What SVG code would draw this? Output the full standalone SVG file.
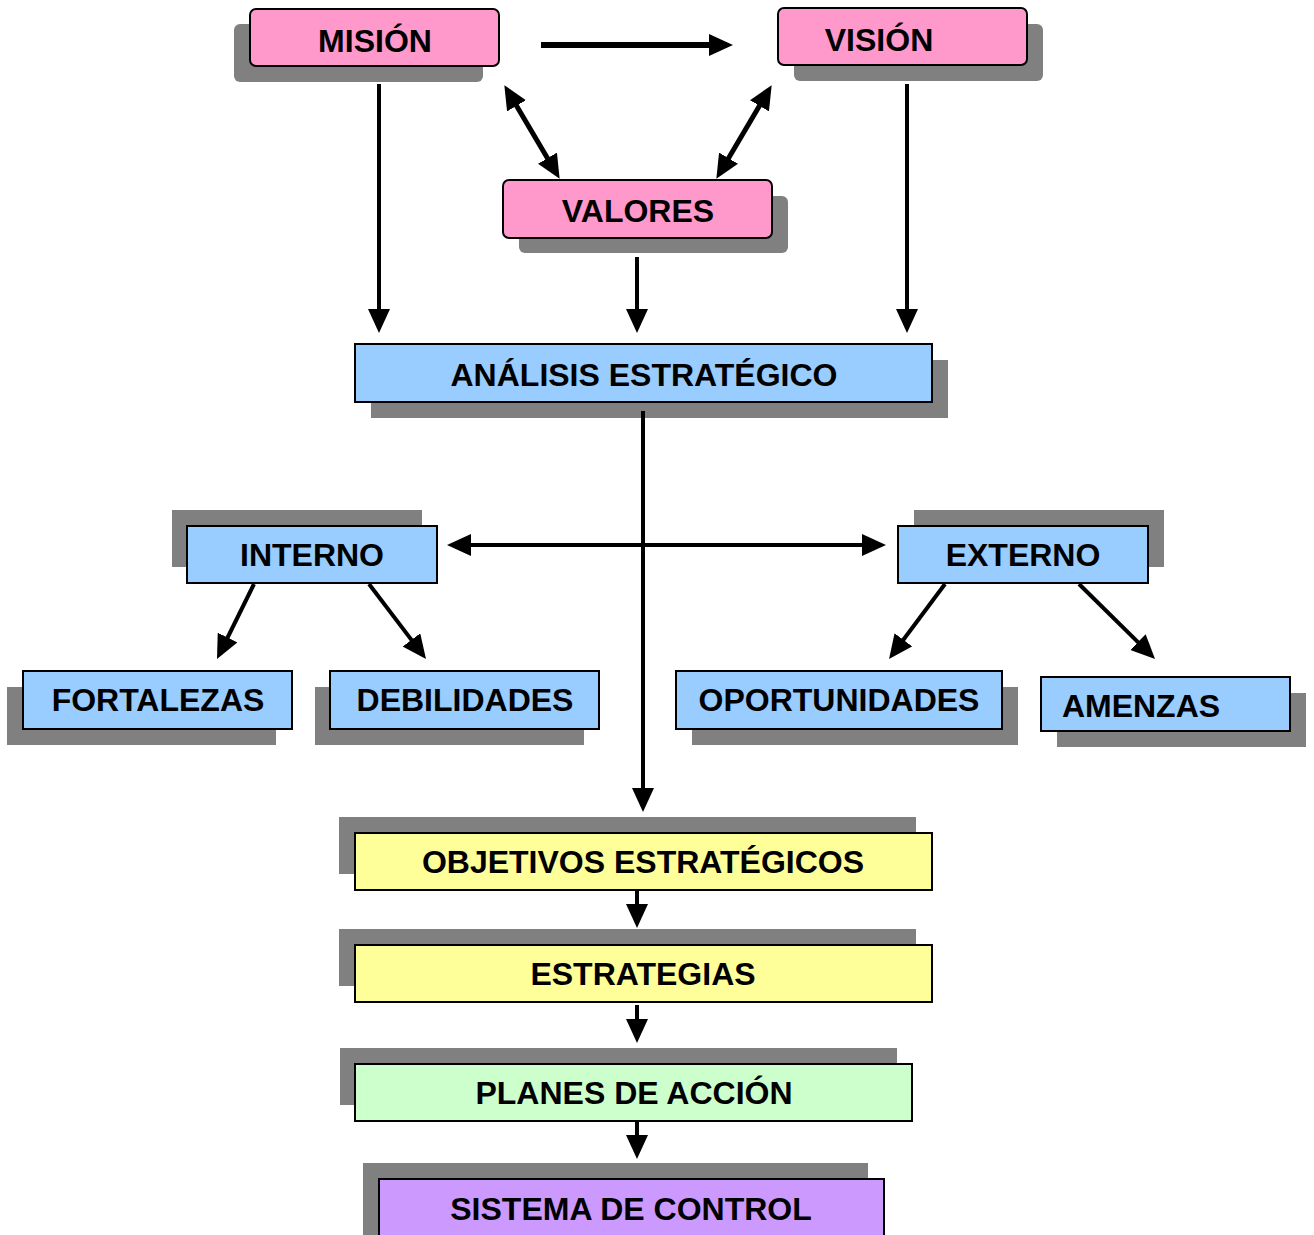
<svg xmlns="http://www.w3.org/2000/svg" width="1314" height="1235" viewBox="0 0 1314 1235">
<style>
.sh{fill:#808080}
.bx{stroke:#000;stroke-width:2}
.pk{fill:#FF99CC}
.bl{fill:#99CCFF}
.yl{fill:#FFFF99}
.gr{fill:#CCFFCC}
.pu{fill:#CC99FF}
.t{font-family:"Liberation Sans",Arial,sans-serif;font-weight:bold;font-size:32px;fill:#000;text-anchor:middle}
.c line{stroke:#000;stroke-width:4;fill:none}
.c line.w{stroke-width:6}
.c line.m{stroke-width:5}
.a{marker-end:url(#ah)}
.d{marker-end:url(#ah);marker-start:url(#ah)}
</style>
<defs>
<marker id="ah" markerUnits="userSpaceOnUse" markerWidth="24" markerHeight="22" refX="5" refY="11" orient="auto-start-reverse" viewBox="0 0 24 22">
<path d="M0,0 L24,11 L0,22 z" fill="#000"/>
</marker>
</defs>
<rect width="1314" height="1235" fill="#fff"/>
<g id="mision"><rect class="sh" x="234" y="24" width="249" height="58" rx="6"/><rect class="bx pk" x="250" y="9" width="249" height="57" rx="6"/><text class="t" x="375" y="52">MISIÓN</text></g>
<g id="vision"><rect class="sh" x="794" y="24" width="249" height="57" rx="6"/><rect class="bx pk" x="778" y="8" width="249" height="57" rx="6"/><text class="t" x="879" y="51">VISIÓN</text></g>
<g id="valores"><rect class="sh" x="519" y="196" width="269" height="57" rx="6"/><rect class="bx pk" x="503" y="180" width="269" height="58" rx="6"/><text class="t" x="638" y="222">VALORES</text></g>
<g id="analisis"><rect class="sh" x="371" y="360" width="577" height="58"/><rect class="bx bl" x="355" y="344" width="577" height="58"/><text class="t" x="644" y="386">ANÁLISIS ESTRATÉGICO</text></g>
<g id="interno"><rect class="sh" x="172" y="510" width="250" height="57"/><rect class="bx bl" x="187" y="526" width="250" height="57"/><text class="t" x="312" y="566">INTERNO</text></g>
<g id="externo"><rect class="sh" x="914" y="510" width="250" height="57"/><rect class="bx bl" x="898" y="526" width="250" height="57"/><text class="t" x="1023" y="566">EXTERNO</text></g>
<g id="fortalezas"><rect class="sh" x="7" y="687" width="269" height="58"/><rect class="bx bl" x="23" y="671" width="269" height="58"/><text class="t" x="158" y="711">FORTALEZAS</text></g>
<g id="debilidades"><rect class="sh" x="315" y="687" width="269" height="58"/><rect class="bx bl" x="330" y="671" width="269" height="58"/><text class="t" x="465" y="711">DEBILIDADES</text></g>
<g id="oportunidades"><rect class="sh" x="692" y="687" width="326" height="58"/><rect class="bx bl" x="676" y="671" width="326" height="58"/><text class="t" x="839" y="711">OPORTUNIDADES</text></g>
<g id="amenzas"><rect class="sh" x="1057" y="693" width="249" height="54"/><rect class="bx bl" x="1041" y="677" width="249" height="54"/><text class="t" x="1141" y="717">AMENZAS</text></g>
<g id="objetivos"><rect class="sh" x="339" y="817" width="577" height="57"/><rect class="bx yl" x="355" y="833" width="577" height="57"/><text class="t" x="643" y="873">OBJETIVOS ESTRATÉGICOS</text></g>
<g id="estrategias"><rect class="sh" x="339" y="929" width="577" height="57"/><rect class="bx yl" x="355" y="945" width="577" height="57"/><text class="t" x="643" y="985">ESTRATEGIAS</text></g>
<g id="planes"><rect class="sh" x="340" y="1048" width="557" height="57"/><rect class="bx gr" x="355" y="1064" width="557" height="57"/><text class="t" x="634" y="1104">PLANES DE ACCIÓN</text></g>
<g id="sistema"><rect class="sh" x="363" y="1163" width="505" height="80"/><rect class="bx pu" x="379" y="1179" width="505" height="70"/><text class="t" x="631" y="1220">SISTEMA DE CONTROL</text></g>
<g id="connectors" class="c">
<line class="a w" x1="541" y1="45" x2="714" y2="45"/>
<line class="a" x1="379" y1="84" x2="379" y2="314"/>
<line class="a" x1="637" y1="257" x2="637" y2="314"/>
<line class="a" x1="907" y1="84" x2="907" y2="314"/>
<line class="d m" x1="514" y1="101.5" x2="550" y2="162.5"/>
<line class="d m" x1="762" y1="101.5" x2="726" y2="162.5"/>
<line class="a" x1="643" y1="411" x2="643" y2="793"/>
<line class="d" x1="466" y1="545" x2="867" y2="545"/>
<line class="a" x1="254" y1="584" x2="225.4" y2="642"/>
<line class="a" x1="369" y1="584" x2="414.5" y2="643.9"/>
<line class="a" x1="945" y1="584" x2="900.4" y2="643.8"/>
<line class="a" x1="1079" y1="584" x2="1141.5" y2="645.6"/>
<line class="a" x1="637" y1="891" x2="637" y2="909"/>
<line class="a" x1="637" y1="1005" x2="637" y2="1024"/>
<line class="a" x1="637" y1="1122" x2="637" y2="1140"/>
</g>
</svg>
